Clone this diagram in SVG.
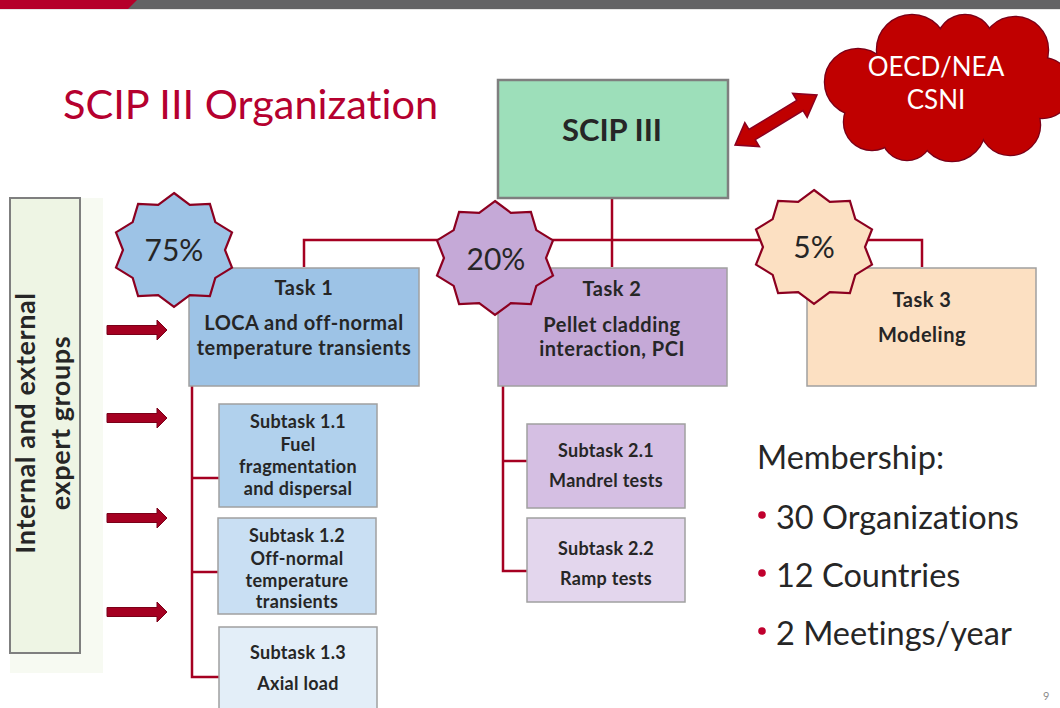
<svg xmlns="http://www.w3.org/2000/svg" xmlns:xlink="http://www.w3.org/1999/xlink" width="1060" height="708" viewBox="0 0 1060 708">
  <style>
    text { font-family: Lato, "Open Sans", "Liberation Sans", sans-serif; fill: #262626; font-variant-ligatures: none; }
    .title { font-size: 41.5px; fill: #B5002F; }
    .bold { font-weight: bold; text-anchor: middle; }
    .task { font-size: 20px; letter-spacing: 0.5px; }
    .sub { font-size: 18px; letter-spacing: 0.3px; }
    .pct { font-size: 30px; text-anchor: middle; }
    .box { stroke: #A0A0A0; stroke-width: 1.5; }
    .link { fill: none; stroke: #A50021; stroke-width: 2.5; }
    .star { stroke: #8C0020; stroke-width: 2.2; stroke-linejoin: miter; }
    .arrow { fill: #A50021; stroke: #7A0018; stroke-width: 1; }
    .member { font-size: 32.5px; }
  </style>
  <defs>
    <!-- ten-point star used for the percentage badges -->
    <polygon id="star10" points="0,-57 15.8,-45.2 35.9,-46.1 41.3,-27.9 58,-17.6 51,0 58,17.6 41.3,27.9 35.9,46.1 15.8,45.2 0,57 -15.8,45.2 -35.9,46.1 -41.3,27.9 -58,17.6 -51,0 -58,-17.6 -41.3,-27.9 -35.9,-46.1 -15.8,-45.2"/>
    <!-- block arrow pointing right -->
    <polygon id="blockArrow" points="0,-4.5 50,-4.5 50,-10 60,0 50,10 50,4.5 0,4.5"/>
    <!-- lobes of the cloud outline -->
    <g id="cloudLobes">
      <circle cx="858" cy="82" r="33"/>
      <circle cx="872" cy="122" r="28"/>
      <circle cx="912" cy="50" r="35"/>
      <circle cx="965" cy="43" r="28"/>
      <circle cx="1015" cy="50" r="33"/>
      <circle cx="1042" cy="88" r="30"/>
      <circle cx="1010" cy="125" r="30"/>
      <circle cx="952" cy="128" r="33"/>
      <circle cx="907" cy="135" r="25"/>
    </g>
  </defs>

  <rect width="1060" height="708" fill="#FFFFFF"/>

  <!-- header band -->
  <g id="header">
    <rect x="0" y="0" width="1060" height="9" fill="#636365"/>
    <polygon points="0,0 137,0 128,9 0,9" fill="#B5002A"/>
    <rect x="0" y="9" width="1060" height="1" fill="#E6E6E6"/>
  </g>

  <text class="title" x="63" y="119">SCIP III Organization</text>

  <!-- connectors -->
  <g id="connectors">
    <polyline class="link" points="304,267 304,240 922,240 922,267"/>
    <line class="link" x1="612" y1="198" x2="612" y2="267"/>
    <polyline class="link" points="192,386 192,677 219,677"/>
    <line class="link" x1="192" y1="478" x2="219" y2="478"/>
    <line class="link" x1="192" y1="572" x2="218" y2="572"/>
    <polyline class="link" points="503,386 503,571 527,571"/>
    <line class="link" x1="503" y1="461" x2="527" y2="461"/>
    <!-- arrows from expert groups -->
    <use href="#blockArrow" class="arrow" transform="translate(107,330)"/>
    <use href="#blockArrow" class="arrow" transform="translate(107,418)"/>
    <use href="#blockArrow" class="arrow" transform="translate(107,518)"/>
    <use href="#blockArrow" class="arrow" transform="translate(107,612)"/>
    <!-- two-way arrow between SCIP III and OECD/NEA -->
    <polygon transform="translate(776,120) rotate(-31.4)" points="-48,0 -28,-14 -28,-6 28,-6 28,-14 48,0 28,14 28,6 -28,6 -28,14" fill="#C00000" stroke="#8B0020" stroke-width="1.5" stroke-linejoin="miter"/>
  </g>

  <!-- expert groups panel -->
  <g id="experts">
    <rect x="10" y="198" width="93" height="475" fill="#F7FAF2"/>
    <rect x="10" y="198" width="70" height="455" fill="#EEF5E4" stroke="#7F7F7F" stroke-width="2"/>
    <text class="bold" font-size="27" letter-spacing="0.6" transform="translate(35,423) rotate(-90)">Internal and external</text>
    <text class="bold" font-size="27" letter-spacing="0.6" transform="translate(70,423) rotate(-90)">expert groups</text>
  </g>

  <!-- top node -->
  <g id="scip">
    <rect x="498" y="80" width="230" height="118" fill="#9DDFBA" stroke="#7F7F7F" stroke-width="2.5"/>
    <text class="bold" x="612" y="141" font-size="31">SCIP III</text>
  </g>

  <!-- OECD/NEA CSNI cloud -->
  <g id="csni">
    <use href="#cloudLobes" fill="#C00000" stroke="#7A0018" stroke-width="2.5"/>
    <use href="#cloudLobes" fill="#C00000"/>
    <ellipse cx="950" cy="90" rx="85" ry="52" fill="#C00000"/>
    <text x="936" y="76" font-size="26" text-anchor="middle" style="fill:#FFFFFF">OECD/NEA</text>
    <text x="936" y="109" font-size="26" text-anchor="middle" style="fill:#FFFFFF">CSNI</text>
  </g>

  <!-- Task 1 -->
  <g id="task1">
    <rect class="box" x="189" y="268" width="230" height="118" fill="#9DC3E6"/>
    <text class="bold task" x="304" y="295">Task 1</text>
    <text class="bold task" x="304" y="330">LOCA and off-normal</text>
    <text class="bold task" x="304" y="355">temperature transients</text>
  </g>
  <g id="star75">
    <use href="#star10" class="star" fill="#9DC3E6" transform="translate(174,250)"/>
    <text class="pct" x="174" y="261">75%</text>
  </g>

  <!-- Task 2 -->
  <g id="task2">
    <rect class="box" x="498" y="268" width="229" height="118" fill="#C5A9D7"/>
    <text class="bold task" x="612" y="296">Task 2</text>
    <text class="bold task" x="612" y="332">Pellet cladding</text>
    <text class="bold task" x="612" y="356">interaction, PCI</text>
  </g>
  <g id="star20">
    <use href="#star10" class="star" fill="#C5A9D7" transform="translate(495,258)"/>
    <text class="pct" x="496" y="270">20%</text>
  </g>

  <!-- Task 3 -->
  <g id="task3">
    <rect class="box" x="807" y="268" width="229" height="118" fill="#FCE0C2"/>
    <text class="bold task" x="922" y="307">Task 3</text>
    <text class="bold task" x="922" y="342">Modeling</text>
  </g>
  <g id="star5">
    <use href="#star10" class="star" fill="#FCE0C2" transform="translate(814,247)"/>
    <text class="pct" x="814" y="258">5%</text>
  </g>

  <!-- Task 1 subtasks -->
  <g id="sub11">
    <rect class="box" x="219" y="404" width="158" height="103" fill="#B1D1ED"/>
    <text class="bold sub" x="298" y="428">Subtask 1.1</text>
    <text class="bold sub" x="298" y="451">Fuel</text>
    <text class="bold sub" x="298" y="473">fragmentation</text>
    <text class="bold sub" x="298" y="495">and dispersal</text>
  </g>
  <g id="sub12">
    <rect class="box" x="218" y="518" width="158" height="96" fill="#C9DFF3"/>
    <text class="bold sub" x="297" y="542">Subtask 1.2</text>
    <text class="bold sub" x="297" y="565">Off-normal</text>
    <text class="bold sub" x="297" y="587">temperature</text>
    <text class="bold sub" x="297" y="608">transients</text>
  </g>
  <g id="sub13">
    <rect class="box" x="219" y="627" width="158" height="90" fill="#E3EEF8"/>
    <text class="bold sub" x="298" y="659">Subtask 1.3</text>
    <text class="bold sub" x="298" y="690">Axial load</text>
  </g>

  <!-- Task 2 subtasks -->
  <g id="sub21">
    <rect class="box" x="527" y="424" width="158" height="84" fill="#D5BFE3"/>
    <text class="bold sub" x="606" y="457">Subtask 2.1</text>
    <text class="bold sub" x="606" y="487">Mandrel tests</text>
  </g>
  <g id="sub22">
    <rect class="box" x="527" y="518" width="158" height="84" fill="#E3D6ED"/>
    <text class="bold sub" x="606" y="555">Subtask 2.2</text>
    <text class="bold sub" x="606" y="585">Ramp tests</text>
  </g>

  <!-- membership summary -->
  <g id="membership">
    <text class="member" x="757" y="469">Membership:</text>
    <circle cx="762" cy="515" r="3.8" fill="#C0002E"/>
    <text class="member" x="776" y="529">30 Organizations</text>
    <circle cx="762" cy="573" r="3.8" fill="#C0002E"/>
    <text class="member" x="776" y="587">12 Countries</text>
    <circle cx="762" cy="631" r="3.8" fill="#C0002E"/>
    <text class="member" x="776" y="645">2 Meetings/year</text>
  </g>

  <text x="1043" y="700" font-size="11" style="fill:#8C8C8C">9</text>
</svg>
